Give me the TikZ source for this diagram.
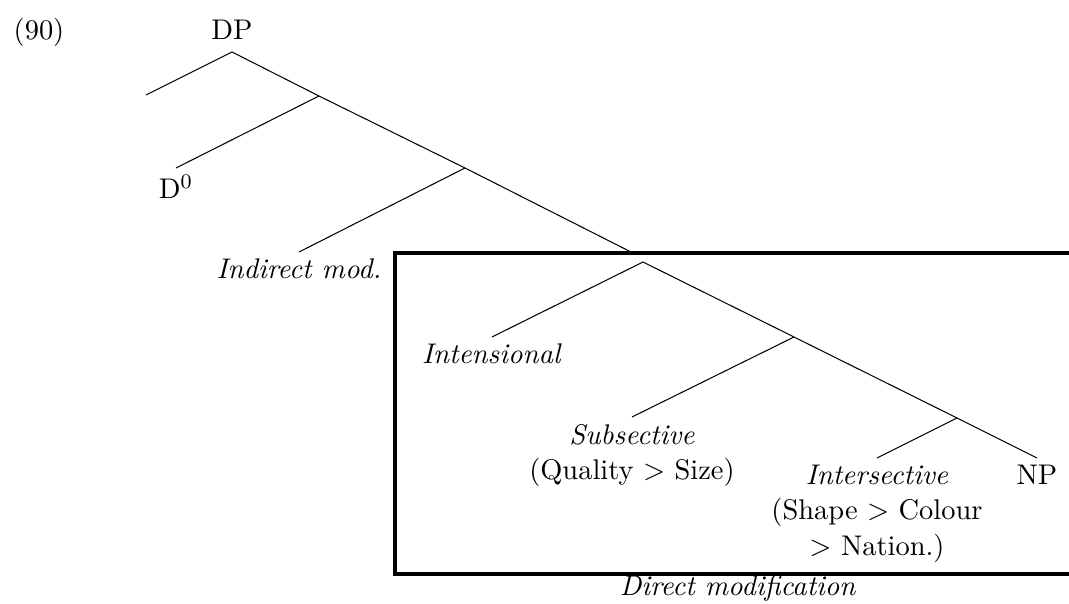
\documentclass[11pt,tikz,border=0pt]{standalone}
\usepackage{amsmath,amssymb}
\usepackage{tikz}
\usetikzlibrary{positioning}

\begin{document}
\begin{tikzpicture}[
      x=0.3851pt, y=-0.3851pt,
      leaf/.style={anchor=north, inner sep=2.5pt, align=center},
      label/.style={anchor=base, inner sep=0pt},
      branch/.style={line width=0.4pt},
      frame/.style={line width=1.2pt}
    ]
      \useasboundingbox (0,0) rectangle (1069,604);
      % example number and root
      \node[label] (ex) at (39,40) {(90)};
      \node[label] (dp) at (232,40) {DP};
      % branch points
      \coordinate (n0) at (232,52);
      \coordinate (n1) at (319,96);
      \coordinate (n2) at (465,168);
      \coordinate (n3) at (643,262);
      \coordinate (n4) at (794,337);
      \coordinate (n5) at (957,418);
      \coordinate (empty) at (146,95);
      \coordinate (boxtop) at (633,253);
      % leaves
      \node[leaf] (d0) at (176,168) {D$^0$};
      \node[leaf] (indir) at (299,252) {\textit{Indirect mod.}};
      \node[leaf] (inten) at (492,337) {\textit{Intensional}};
      \node[leaf] (subs) at (632,417) {\textit{Subsective}\\(Quality $>$ Size)};
      \node[leaf] (inter) at (877,458) {\textit{Intersective}\\(Shape $>$ Colour\\$>$ Nation.)};
      \node[leaf] (np) at (1037,458) {NP};
      % tree
      \draw[branch] (empty) -- (n0) -- (n1) -- (n2) -- (boxtop);
      \draw[branch] (n1) -- (d0.north);
      \draw[branch] (n2) -- (indir.north);
      \draw[branch] (inten.north) -- (n3) -- (n4) -- (n5) -- (np.north);
      \draw[branch] (n4) -- (subs.north);
      \draw[branch] (n5) -- (inter.north);
      % direct modification box
      \draw[frame] (1075,253) -- (395,253) -- (395,574) -- (1075,574);
      \node[label] (direct) at (738,596) {\textit{Direct modification}};
    \end{tikzpicture}
\end{document}
